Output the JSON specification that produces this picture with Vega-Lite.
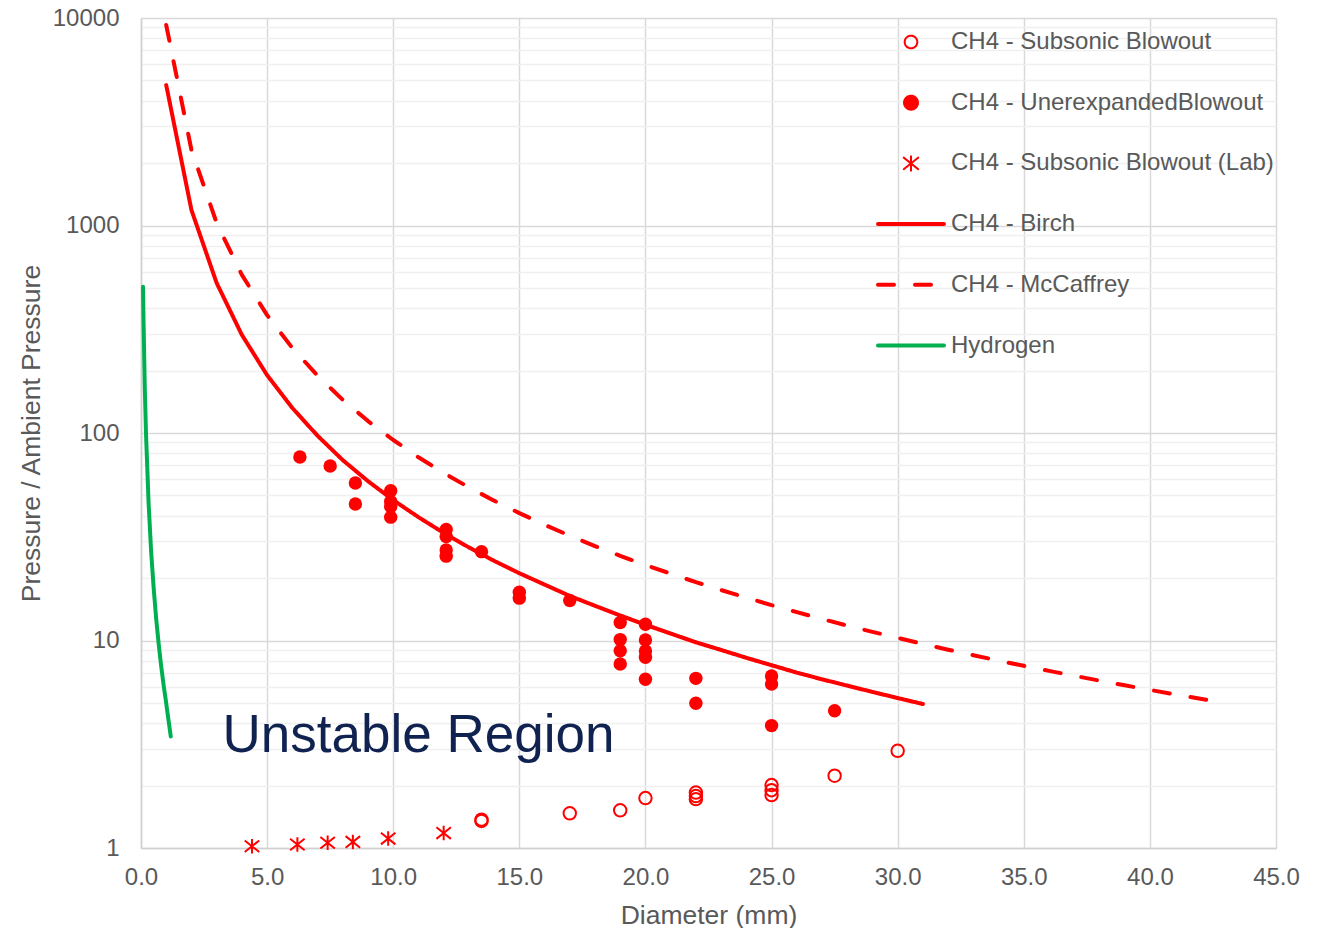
{
  "$schema": "https://vega.github.io/schema/vega-lite/v6.json",
  "width": 1135,
  "height": 830,
  "autosize": {"type": "none"},
  "padding": {"left": 141, "top": 18, "right": 48, "bottom": 80},
  "background": "white",
  "config": {
    "view": {"stroke": null},
    "font": "Liberation Sans",
    "axis": {
      "labelFont": "Liberation Sans",
      "titleFont": "Liberation Sans",
      "labelColor": "#595959",
      "titleColor": "#595959",
      "labelFontSize": 24,
      "titleFontSize": 26.5,
      "titleFontWeight": "normal",
      "labelFlush": false,
      "ticks": false,
      "tickSize": 0,
      "gridColor": "#D9D9D9",
      "gridWidth": 1.5,
      "domainColor": "#D0D0D0",
      "domainWidth": 1.5
    }
  },
  "datasets": {
    "pts": [
      {"series": "CH4 - Subsonic Blowout", "d": 13.5, "p": 1.35},
      {"series": "CH4 - Subsonic Blowout", "d": 13.5, "p": 1.37},
      {"series": "CH4 - Subsonic Blowout", "d": 17, "p": 1.47},
      {"series": "CH4 - Subsonic Blowout", "d": 19, "p": 1.52},
      {"series": "CH4 - Subsonic Blowout", "d": 20, "p": 1.74},
      {"series": "CH4 - Subsonic Blowout", "d": 22, "p": 1.85},
      {"series": "CH4 - Subsonic Blowout", "d": 22, "p": 1.78},
      {"series": "CH4 - Subsonic Blowout", "d": 22, "p": 1.72},
      {"series": "CH4 - Subsonic Blowout", "d": 25, "p": 2.01},
      {"series": "CH4 - Subsonic Blowout", "d": 25, "p": 1.9},
      {"series": "CH4 - Subsonic Blowout", "d": 25, "p": 1.8},
      {"series": "CH4 - Subsonic Blowout", "d": 27.5, "p": 2.23},
      {"series": "CH4 - Subsonic Blowout", "d": 30, "p": 2.94},
      {"series": "CH4 - UnerexpandedBlowout", "d": 6.3, "p": 76.6},
      {"series": "CH4 - UnerexpandedBlowout", "d": 7.5, "p": 69.3},
      {"series": "CH4 - UnerexpandedBlowout", "d": 8.5, "p": 57.4},
      {"series": "CH4 - UnerexpandedBlowout", "d": 8.5, "p": 45.5},
      {"series": "CH4 - UnerexpandedBlowout", "d": 9.9, "p": 52.7},
      {"series": "CH4 - UnerexpandedBlowout", "d": 9.9, "p": 46.7},
      {"series": "CH4 - UnerexpandedBlowout", "d": 9.9, "p": 44.2},
      {"series": "CH4 - UnerexpandedBlowout", "d": 9.9, "p": 39.3},
      {"series": "CH4 - UnerexpandedBlowout", "d": 12.1, "p": 34.3},
      {"series": "CH4 - UnerexpandedBlowout", "d": 12.1, "p": 31.7},
      {"series": "CH4 - UnerexpandedBlowout", "d": 12.1, "p": 27.3},
      {"series": "CH4 - UnerexpandedBlowout", "d": 12.1, "p": 25.5},
      {"series": "CH4 - UnerexpandedBlowout", "d": 13.5, "p": 26.8},
      {"series": "CH4 - UnerexpandedBlowout", "d": 15, "p": 17.1},
      {"series": "CH4 - UnerexpandedBlowout", "d": 15, "p": 16.0},
      {"series": "CH4 - UnerexpandedBlowout", "d": 17, "p": 15.6},
      {"series": "CH4 - UnerexpandedBlowout", "d": 19, "p": 12.2},
      {"series": "CH4 - UnerexpandedBlowout", "d": 19, "p": 10.1},
      {"series": "CH4 - UnerexpandedBlowout", "d": 19, "p": 8.93},
      {"series": "CH4 - UnerexpandedBlowout", "d": 19, "p": 7.71},
      {"series": "CH4 - UnerexpandedBlowout", "d": 20, "p": 11.97},
      {"series": "CH4 - UnerexpandedBlowout", "d": 20, "p": 10.05},
      {"series": "CH4 - UnerexpandedBlowout", "d": 20, "p": 8.9},
      {"series": "CH4 - UnerexpandedBlowout", "d": 20, "p": 8.3},
      {"series": "CH4 - UnerexpandedBlowout", "d": 20, "p": 6.5},
      {"series": "CH4 - UnerexpandedBlowout", "d": 22, "p": 6.57},
      {"series": "CH4 - UnerexpandedBlowout", "d": 22, "p": 4.98},
      {"series": "CH4 - UnerexpandedBlowout", "d": 25, "p": 6.74},
      {"series": "CH4 - UnerexpandedBlowout", "d": 25, "p": 6.17},
      {"series": "CH4 - UnerexpandedBlowout", "d": 25, "p": 3.89},
      {"series": "CH4 - UnerexpandedBlowout", "d": 27.5, "p": 4.59},
      {"series": "CH4 - Subsonic Blowout (Lab)", "d": 4.4, "p": 1.02},
      {"series": "CH4 - Subsonic Blowout (Lab)", "d": 6.2, "p": 1.04},
      {"series": "CH4 - Subsonic Blowout (Lab)", "d": 7.4, "p": 1.06},
      {"series": "CH4 - Subsonic Blowout (Lab)", "d": 8.4, "p": 1.07},
      {"series": "CH4 - Subsonic Blowout (Lab)", "d": 9.8, "p": 1.11},
      {"series": "CH4 - Subsonic Blowout (Lab)", "d": 12.0, "p": 1.18}
    ],
    "lines": [
      {"series": "CH4 - Birch", "d": 1, "p": 4750},
      {"series": "CH4 - Birch", "d": 2, "p": 1188},
      {"series": "CH4 - Birch", "d": 3, "p": 528},
      {"series": "CH4 - Birch", "d": 4, "p": 297},
      {"series": "CH4 - Birch", "d": 5, "p": 190},
      {"series": "CH4 - Birch", "d": 6, "p": 132},
      {"series": "CH4 - Birch", "d": 7, "p": 97},
      {"series": "CH4 - Birch", "d": 8, "p": 74},
      {"series": "CH4 - Birch", "d": 9, "p": 58.6},
      {"series": "CH4 - Birch", "d": 10, "p": 47.5},
      {"series": "CH4 - Birch", "d": 11, "p": 39.3},
      {"series": "CH4 - Birch", "d": 12, "p": 33},
      {"series": "CH4 - Birch", "d": 13, "p": 28.1},
      {"series": "CH4 - Birch", "d": 14, "p": 24.2},
      {"series": "CH4 - Birch", "d": 15, "p": 21.1},
      {"series": "CH4 - Birch", "d": 16, "p": 18.6},
      {"series": "CH4 - Birch", "d": 17, "p": 16.4},
      {"series": "CH4 - Birch", "d": 18, "p": 14.7},
      {"series": "CH4 - Birch", "d": 19, "p": 13.2},
      {"series": "CH4 - Birch", "d": 20, "p": 11.9},
      {"series": "CH4 - Birch", "d": 21, "p": 10.8},
      {"series": "CH4 - Birch", "d": 22, "p": 9.8},
      {"series": "CH4 - Birch", "d": 23, "p": 9.0},
      {"series": "CH4 - Birch", "d": 24, "p": 8.25},
      {"series": "CH4 - Birch", "d": 25, "p": 7.6},
      {"series": "CH4 - Birch", "d": 26, "p": 7.0},
      {"series": "CH4 - Birch", "d": 27, "p": 6.5},
      {"series": "CH4 - Birch", "d": 28, "p": 6.06},
      {"series": "CH4 - Birch", "d": 29, "p": 5.65},
      {"series": "CH4 - Birch", "d": 30, "p": 5.28},
      {"series": "CH4 - Birch", "d": 31, "p": 4.94},
      {"series": "CH4 - McCaffrey", "d": 1, "p": 9250},
      {"series": "CH4 - McCaffrey", "d": 2, "p": 2312},
      {"series": "CH4 - McCaffrey", "d": 3, "p": 1028},
      {"series": "CH4 - McCaffrey", "d": 4, "p": 578},
      {"series": "CH4 - McCaffrey", "d": 5, "p": 370},
      {"series": "CH4 - McCaffrey", "d": 6, "p": 257},
      {"series": "CH4 - McCaffrey", "d": 7, "p": 189},
      {"series": "CH4 - McCaffrey", "d": 8, "p": 144.5},
      {"series": "CH4 - McCaffrey", "d": 9, "p": 114.2},
      {"series": "CH4 - McCaffrey", "d": 10, "p": 92.5},
      {"series": "CH4 - McCaffrey", "d": 11, "p": 76.4},
      {"series": "CH4 - McCaffrey", "d": 12, "p": 64.2},
      {"series": "CH4 - McCaffrey", "d": 13, "p": 54.7},
      {"series": "CH4 - McCaffrey", "d": 14, "p": 47.2},
      {"series": "CH4 - McCaffrey", "d": 15, "p": 41.1},
      {"series": "CH4 - McCaffrey", "d": 16, "p": 36.1},
      {"series": "CH4 - McCaffrey", "d": 17, "p": 32.0},
      {"series": "CH4 - McCaffrey", "d": 18, "p": 28.5},
      {"series": "CH4 - McCaffrey", "d": 19, "p": 25.6},
      {"series": "CH4 - McCaffrey", "d": 20, "p": 23.1},
      {"series": "CH4 - McCaffrey", "d": 21, "p": 21.0},
      {"series": "CH4 - McCaffrey", "d": 22, "p": 19.1},
      {"series": "CH4 - McCaffrey", "d": 23, "p": 17.5},
      {"series": "CH4 - McCaffrey", "d": 24, "p": 16.1},
      {"series": "CH4 - McCaffrey", "d": 25, "p": 14.8},
      {"series": "CH4 - McCaffrey", "d": 26, "p": 13.7},
      {"series": "CH4 - McCaffrey", "d": 27, "p": 12.7},
      {"series": "CH4 - McCaffrey", "d": 28, "p": 11.8},
      {"series": "CH4 - McCaffrey", "d": 29, "p": 11.0},
      {"series": "CH4 - McCaffrey", "d": 30, "p": 10.3},
      {"series": "CH4 - McCaffrey", "d": 31, "p": 9.63},
      {"series": "CH4 - McCaffrey", "d": 32, "p": 9.03},
      {"series": "CH4 - McCaffrey", "d": 33, "p": 8.49},
      {"series": "CH4 - McCaffrey", "d": 34, "p": 8.0},
      {"series": "CH4 - McCaffrey", "d": 35, "p": 7.55},
      {"series": "CH4 - McCaffrey", "d": 36, "p": 7.14},
      {"series": "CH4 - McCaffrey", "d": 37, "p": 6.76},
      {"series": "CH4 - McCaffrey", "d": 38, "p": 6.41},
      {"series": "CH4 - McCaffrey", "d": 39, "p": 6.08},
      {"series": "CH4 - McCaffrey", "d": 40, "p": 5.78},
      {"series": "CH4 - McCaffrey", "d": 41, "p": 5.5},
      {"series": "CH4 - McCaffrey", "d": 42, "p": 5.24},
      {"series": "CH4 - McCaffrey", "d": 42.7, "p": 5.07},
      {"series": "Hydrogen", "d": 0.08, "p": 507},
      {"series": "Hydrogen", "d": 0.1, "p": 350},
      {"series": "Hydrogen", "d": 0.15, "p": 166},
      {"series": "Hydrogen", "d": 0.2, "p": 98},
      {"series": "Hydrogen", "d": 0.3, "p": 46.2},
      {"series": "Hydrogen", "d": 0.4, "p": 27.1},
      {"series": "Hydrogen", "d": 0.5, "p": 18.0},
      {"series": "Hydrogen", "d": 0.6, "p": 12.8},
      {"series": "Hydrogen", "d": 0.7, "p": 9.64},
      {"series": "Hydrogen", "d": 0.8, "p": 7.52},
      {"series": "Hydrogen", "d": 0.9, "p": 6.05},
      {"series": "Hydrogen", "d": 1.0, "p": 4.98},
      {"series": "Hydrogen", "d": 1.1, "p": 4.05},
      {"series": "Hydrogen", "d": 1.18, "p": 3.45}
    ],
    "note": [
      {"label": "Unstable Region", "d": 11.0, "p": 2.9}
    ]
  },
  "resolve": {"axis": {"y": "independent"}},
  "layer": [
    {
      "data": {"name": "note"},
      "mark": {"type": "text", "fontSize": 53, "font": "Liberation Sans", "color": "#102250", "align": "center", "baseline": "alphabetic"},
      "encoding": {
        "x": {"field": "d", "type": "quantitative", "scale": {"domain": [0, 45], "nice": false, "zero": false},
              "axis": {"values": [0, 5, 10, 15, 20, 25, 30, 35, 40, 45], "format": ".1f", "title": "Diameter (mm)", "labelPadding": 17, "titlePadding": 13, "grid": true}},
        "y": {"field": "p", "type": "quantitative", "scale": {"type": "log", "domain": [1, 10000], "nice": false},
              "axis": {"orient": "left", "values": [2,3,4,5,6,7,8,9,20,30,40,50,60,70,80,90,200,300,400,500,600,700,800,900,2000,3000,4000,5000,6000,7000,8000,9000],
                       "labels": false, "domain": false, "title": null, "grid": true, "gridColor": "#F0F0F0", "gridWidth": 1.5}},
        "text": {"field": "label"}
      }
    },
    {
      "data": {"name": "lines"},
      "mark": {"type": "line", "strokeWidth": 4, "strokeCap": "round", "strokeJoin": "round"},
      "encoding": {
        "x": {"field": "d", "type": "quantitative"},
        "y": {"field": "p", "type": "quantitative",
              "axis": {"orient": "left", "values": [1, 10, 100, 1000, 10000], "format": "d", "title": "Pressure / Ambient Pressure", "labelPadding": 22, "titlePadding": 7, "grid": true, "zindex": 0}},
        "detail": {"field": "series"},
        "color": {"field": "series", "type": "nominal",
                  "scale": {"domain": ["CH4 - Subsonic Blowout", "CH4 - UnerexpandedBlowout", "CH4 - Subsonic Blowout (Lab)", "CH4 - Birch", "CH4 - McCaffrey", "Hydrogen"],
                            "range": ["#FF0000", "#FF0000", "#FF0000", "#FF0000", "#FF0000", "#00B050"]},
                  "legend": {
                    "title": null, "orient": "none", "legendX": 758, "legendY": 12,
                    "padding": 0, "labelFont": "Liberation Sans", "labelFontSize": 24, "labelColor": "#595959",
                    "labelLimit": 500, "labelOffset": 28, "rowPadding": 36.7, "symbolSize": 289, "symbolStrokeWidth": 2,
                    "symbolFillColor": "transparent",
                    "encode": {"symbols": {
                      "enter": {
                        "fill": {"signal": "datum.value === 'CH4 - UnerexpandedBlowout' ? '#FF0000' : 'transparent'"},
                        "fillOpacity": {"signal": "datum.value === 'CH4 - UnerexpandedBlowout' ? 1 : 0"}
                      },
                      "update": {
                      "shape": {"signal": "datum.value === 'CH4 - Subsonic Blowout (Lab)' ? 'M0,-1L0,1M-1,-0.8L1,0.8M-1,0.8L1,-0.8' : (datum.value === 'CH4 - Subsonic Blowout' || datum.value === 'CH4 - UnerexpandedBlowout') ? 'circle' : 'stroke'"},
                      "fill": {"signal": "datum.value === 'CH4 - UnerexpandedBlowout' ? '#FF0000' : 'transparent'"},
                      "fillOpacity": {"signal": "datum.value === 'CH4 - UnerexpandedBlowout' ? 1 : 0"},
                      "stroke": {"signal": "datum.value === 'Hydrogen' ? '#00B050' : '#FF0000'"},
                      "strokeDash": {"signal": "datum.value === 'CH4 - McCaffrey' ? [16, 21] : [1, 0]"},
                      "strokeWidth": {"signal": "(datum.value === 'CH4 - Birch' || datum.value === 'CH4 - McCaffrey' || datum.value === 'Hydrogen') ? 4 : 2"},
                      "strokeCap": {"value": "round"},
                      "size": {"signal": "(datum.value === 'CH4 - Birch' || datum.value === 'CH4 - McCaffrey' || datum.value === 'Hydrogen') ? 4356 : datum.value === 'CH4 - UnerexpandedBlowout' ? 195 : datum.value === 'CH4 - Subsonic Blowout' ? 160 : 210"},
                      "opacity": {"value": 1}
                    }}}
                  }},
        "strokeDash": {"field": "series", "type": "nominal",
                       "scale": {"domain": ["CH4 - Birch", "CH4 - McCaffrey", "Hydrogen"], "range": [[1, 0], [16, 21], [1, 0]]},
                       "legend": null}
      }
    },
    {
      "data": {"name": "pts"},
      "transform": [{"filter": "datum.series === 'CH4 - Subsonic Blowout'"}],
      "mark": {"type": "point", "shape": "circle", "filled": false, "size": 155, "strokeWidth": 2, "opacity": 1},
      "encoding": {
        "x": {"field": "d", "type": "quantitative"},
        "y": {"field": "p", "type": "quantitative", "axis": null},
        "color": {"field": "series", "type": "nominal", "legend": null}
      }
    },
    {
      "data": {"name": "pts"},
      "transform": [{"filter": "datum.series === 'CH4 - UnerexpandedBlowout'"}],
      "mark": {"type": "point", "shape": "circle", "filled": true, "size": 180, "opacity": 1},
      "encoding": {
        "x": {"field": "d", "type": "quantitative"},
        "y": {"field": "p", "type": "quantitative", "axis": null},
        "color": {"field": "series", "type": "nominal", "legend": null}
      }
    },
    {
      "data": {"name": "pts"},
      "transform": [{"filter": "datum.series === 'CH4 - Subsonic Blowout (Lab)'"}],
      "mark": {"type": "point", "shape": "M0,-1L0,1M-1,-0.8L1,0.8M-1,0.8L1,-0.8", "filled": false, "size": 210, "strokeWidth": 2, "opacity": 1},
      "encoding": {
        "x": {"field": "d", "type": "quantitative"},
        "y": {"field": "p", "type": "quantitative", "axis": null},
        "color": {"field": "series", "type": "nominal", "legend": null}
      }
    }
  ]
}
